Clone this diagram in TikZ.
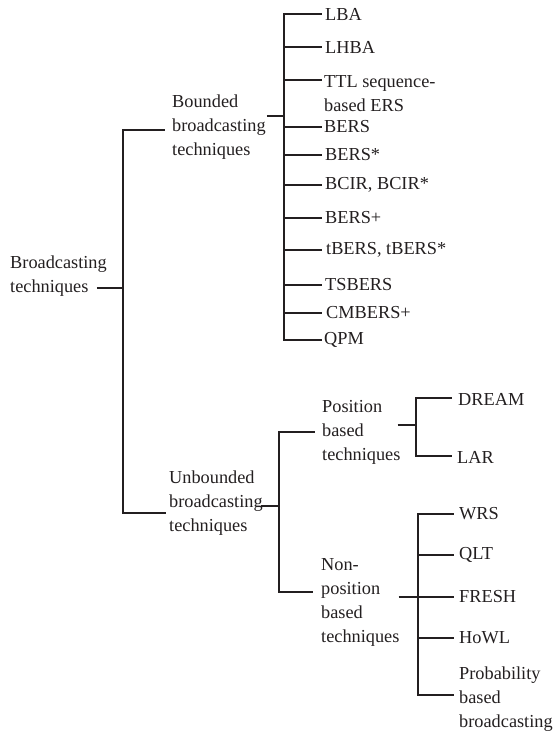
\documentclass[tikz,border=0pt]{standalone}
\usepackage{fontspec}
\setmainfont{Liberation Serif}
\definecolor{ink}{HTML}{231F20}
\begin{document}
\begin{tikzpicture}[x=1pt,y=-1pt,
  lbl/.style={anchor=west,inner sep=0pt,align=left,text=ink,
    font=\fontsize{18.3}{24}\selectfont},
  conn/.style={draw=ink,line width=2pt}]
\useasboundingbox (0,0) rectangle (555,733);
% nodes
\node[lbl] (root) at (10,276.5) {Broadcasting\\techniques};
\node[lbl] (bounded) at (172,127.5) {Bounded\\broadcasting\\techniques};
\node[lbl] (unbounded) at (169,503.5) {Unbounded\\broadcasting\\techniques};
\node[lbl] (position) at (322,432) {Position\\based\\techniques};
\node[lbl] (nonpos) at (321,602.5) {Non-\\position\\based\\techniques};
% bounded leaves
\node[lbl] (lba) at (325,14) {LBA};
\node[lbl] (lhba) at (325,47) {LHBA};
\node[lbl] (ttl) at (324,94) {TTL sequence-\\based ERS};
\node[lbl] (bers) at (324,127) {BERS};
\node[lbl] (bersa) at (325,155) {BERS*};
\node[lbl] (bcir) at (325,185) {BCIR, BCIR*};
\node[lbl] (bersp) at (325,218) {BERS+};
\node[lbl] (tbers) at (326,250) {tBERS, tBERS*};
\node[lbl] (tsbers) at (325,285) {TSBERS};
\node[lbl] (cmbers) at (326,313) {CMBERS+};
\node[lbl] (qpm) at (324,340) {QPM};
% position leaves
\node[lbl] (dream) at (458,399) {DREAM};
\node[lbl] (lar) at (457,457) {LAR};
% non-position leaves
\node[lbl] (wrs) at (459,514) {WRS};
\node[lbl] (qlt) at (459,555) {QLT};
\node[lbl] (fresh) at (459,597) {FRESH};
\node[lbl] (howl) at (459,638) {HoWL};
\node[lbl] (prob) at (459,699) {Probability\\based\\broadcasting};
% root connectors
\draw[conn] ([xshift=-10pt,yshift=-11.5pt]root.east) -- ++(26,0) coordinate (rj);
\draw[conn] (rj) |- ([xshift=-7pt,yshift=-2.5pt]bounded.west);
\draw[conn] (rj) |- ([xshift=-3pt,yshift=-9.5pt]unbounded.west);
% bounded connectors
\draw[conn] ([xshift=1pt,yshift=11.5pt]bounded.east) -- ++(17,0) coordinate (bj);
\foreach \n in {lba,lhba,bers,bersa,bcir,bersp,tbers,tsbers,cmbers,qpm}
  \draw[conn] (bj) |- ([xshift=-3pt]\n.west -| 325,0);
\draw[conn] (bj) |- ([xshift=-2pt,yshift=14pt]ttl.west);
% unbounded connectors
\draw[conn] ([xshift=-2pt,yshift=-2.5pt]unbounded.east) -- ++(18,0) coordinate (uj);
\draw[conn] (uj) |- ([xshift=-7pt]position.west);
\draw[conn] (uj) |- ([xshift=-8pt,yshift=10.5pt]nonpos.west);
% position connectors
\draw[conn] ([xshift=-3pt,yshift=7pt]position.east) -- ++(18,0) coordinate (pj);
\draw[conn] (pj) |- ([xshift=-6pt,yshift=1pt]dream.west);
\draw[conn] (pj) |- ([xshift=-5pt,yshift=1pt]lar.west);
% non-position connectors
\draw[conn] ([xshift=-1pt,yshift=5.5pt]nonpos.east) -- ++(19,0) coordinate (nj);
\foreach \n in {wrs,qlt,fresh,howl}
  \draw[conn] (nj) |- ([xshift=-5pt]\n.west);
\draw[conn] (nj) |- ([xshift=-5pt,yshift=4pt]prob.west);
\end{tikzpicture}
\end{document}
